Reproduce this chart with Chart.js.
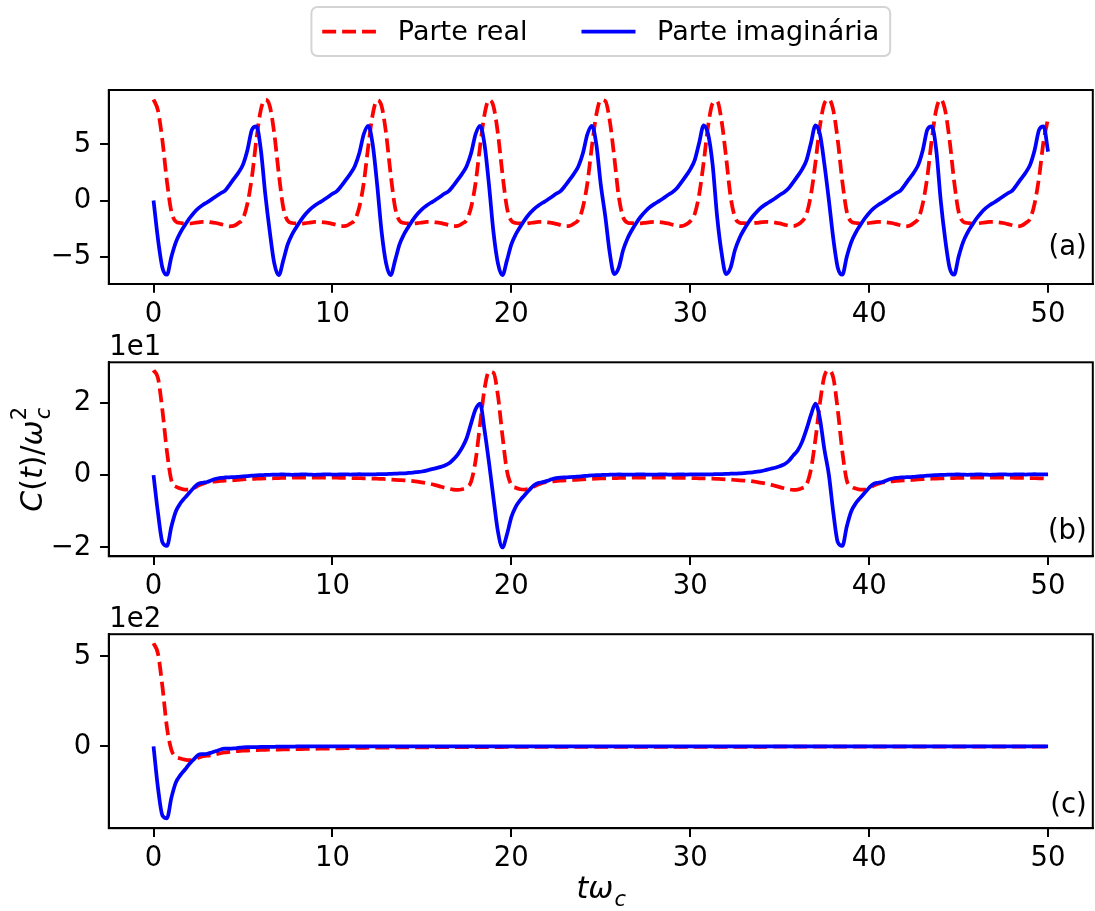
<!DOCTYPE html>
<html>
<head>
<meta charset="utf-8">
<title>C(t)</title>
<script src="https://cdn.jsdelivr.net/npm/chart.js@4.4.1/dist/chart.umd.min.js"></script>
<style>
  html, body { margin: 0; padding: 0; background: #fff; }
  #fig { position: relative; width: 1095px; height: 911px; overflow: hidden; }
  #fig canvas { position: absolute; left: 0; }
</style>
</head>
<body>
<div id="fig">
  <canvas id="panelA" width="1095" height="340" style="top:0px"></canvas>
  <canvas id="panelB" width="1095" height="296" style="top:320px"></canvas>
  <canvas id="panelC" width="1095" height="315" style="top:596px"></canvas>
</div>
<script>
const seriesLabels = ['Parte real', 'Parte imaginária']
const panelTags = ['(a)', '(b)', '(c)']
const xTicks = [0, 10, 20, 30, 40, 50]
const yTicksA = [-5, 0, 5]
const yTicksB = [-20, 0, 20]
const yTicksC = [0, 500]

// samples every 0.25 in t*omega_c, from 0 to 50
const dt = 0.25

const realA = [
  9.0, 8.0, 5.3, 1.7, -1.0, -1.88, -2.0, -2.05, -2.05, -2.0, -1.95, -1.9, -1.9, -1.95, -2.0, -2.1, -2.2, -2.3, -2.25, -2.0, -1.6, -0.25, 2.1, 5.45, 8.1, 8.98,
  8.4, 5.95, 2.4, -0.6, -1.8, -2.0, -2.04, -2.05, -2.01, -1.96, -1.91, -1.9, -1.94, -1.99, -2.08, -2.18, -2.28, -2.26, -2.05, -1.73, -0.6, 1.55, 4.8, 7.65, 8.95,
  8.4, 5.95, 2.4, -0.6, -1.8, -2.0, -2.04, -2.05, -2.01, -1.96, -1.91, -1.9, -1.94, -1.99, -2.08, -2.18, -2.28, -2.26, -2.05, -1.73, -0.6, 1.55, 4.8, 7.65, 8.95,
  8.4, 5.95, 2.4, -0.6, -1.8, -2.0, -2.04, -2.05, -2.01, -1.96, -1.91, -1.9, -1.94, -1.99, -2.08, -2.18, -2.28, -2.26, -2.05, -1.73, -0.6, 1.55, 4.8, 7.65, 8.95,
  8.85, 7.1, 3.9, 0.4, -1.5, -1.97, -2.02, -2.05, -2.03, -1.98, -1.93, -1.9, -1.92, -1.97, -2.04, -2.14, -2.24, -2.28, -2.15, -1.85, -1.2, 0.55, 3.4, 6.65, 8.65,
  8.85, 7.1, 3.9, 0.4, -1.5, -1.97, -2.02, -2.05, -2.03, -1.98, -1.93, -1.9, -1.92, -1.97, -2.04, -2.14, -2.24, -2.28, -2.15, -1.85, -1.2, 0.55, 3.4, 6.65, 8.65,
  9.0, 8.0, 5.3, 1.7, -1.0, -1.88, -2.0, -2.05, -2.05, -2.0, -1.95, -1.9, -1.9, -1.95, -2.0, -2.1, -2.2, -2.3, -2.25, -2.0, -1.6, -0.25, 2.1, 5.45, 8.1,
  9.0, 8.0, 5.3, 1.7, -1.0, -1.88, -2.0, -2.05, -2.05, -2.0, -1.95, -1.9, -1.9, -1.95, -2.0, -2.1, -2.2, -2.3, -2.25, -2.0, -1.6, -0.25, 2.1, 5.3, 7.3
]

const imagA = [
  0.0, -3.45, -6.0, -6.6, -5.0, -3.7, -2.85, -2.2, -1.6, -1.1, -0.7, -0.4, -0.15, 0.1, 0.38, 0.65, 0.88, 1.4, 1.95, 2.5, 3.2, 4.5, 6.3, 6.6, 4.5, 0.5,
  -2.8, -5.6, -6.65, -5.35, -3.9, -3.0, -2.33, -1.72, -1.2, -0.78, -0.46, -0.2, 0.05, 0.32, 0.6, 0.84, 1.3, 1.84, 2.39, 3.06, 4.2, 5.9, 6.65, 5.0, 1.4,
  -2.8, -5.6, -6.65, -5.35, -3.9, -3.0, -2.33, -1.72, -1.2, -0.78, -0.46, -0.2, 0.05, 0.32, 0.6, 0.84, 1.3, 1.84, 2.39, 3.06, 4.2, 5.9, 6.65, 5.0, 1.4,
  -2.8, -5.6, -6.65, -5.35, -3.9, -3.0, -2.33, -1.72, -1.2, -0.78, -0.46, -0.2, 0.05, 0.32, 0.6, 0.84, 1.3, 1.84, 2.39, 3.06, 4.2, 5.9, 6.65, 5.0, 1.4,
  -1.4, -4.65, -6.55, -6.0, -4.4, -3.35, -2.6, -1.95, -1.4, -0.95, -0.58, -0.3, -0.05, 0.21, 0.49, 0.74, 1.09, 1.62, 2.17, 2.78, 3.6, 5.15, 6.7, 5.9, 3.2,
  -1.4, -4.65, -6.55, -6.0, -4.4, -3.35, -2.6, -1.95, -1.4, -0.95, -0.58, -0.3, -0.05, 0.21, 0.49, 0.74, 1.09, 1.62, 2.17, 2.78, 3.6, 5.15, 6.7, 5.9, 3.2,
  0.0, -3.45, -6.0, -6.6, -5.0, -3.7, -2.85, -2.2, -1.6, -1.1, -0.7, -0.4, -0.15, 0.1, 0.38, 0.65, 0.88, 1.4, 1.95, 2.5, 3.2, 4.5, 6.3, 6.6, 4.5,
  0.0, -3.45, -6.0, -6.6, -5.0, -3.7, -2.85, -2.2, -1.6, -1.1, -0.7, -0.4, -0.15, 0.1, 0.38, 0.65, 0.88, 1.4, 1.95, 2.5, 3.2, 4.5, 6.3, 6.6, 4.35
]

const realB = [
  29.0, 26.8, 17.8, 6.5, -1.5, -3.2, -3.7, -4.0, -4.0, -3.6, -2.9, -2.4,
  -2.0, -1.85, -1.7, -1.6, -1.5, -1.45, -1.4, -1.3, -1.2, -1.12, -1.05, -1.0,
  -0.95, -0.92, -0.9, -0.85, -0.8, -0.78, -0.75, -0.72, -0.7, -0.7, -0.7, -0.7,
  -0.7, -0.7, -0.7, -0.7, -0.7, -0.72, -0.75, -0.78, -0.8, -0.82, -0.85, -0.88,
  -0.9, -0.95, -1.0, -1.05, -1.1, -1.2, -1.3, -1.38, -1.45, -1.55, -1.65, -1.8,
  -2.0, -2.2, -2.45, -2.75, -3.1, -3.45, -3.75, -4.0, -4.1, -3.9, -3.4, -1.8,
  4.0, 14.0, 23.8, 28.6,
  28.3, 22.0, 11.0, 1.3, -2.7, -3.5, -3.9, -4.0, -3.75, -3.2, -2.6, -2.15,
  -1.9, -1.75, -1.64, -1.54, -1.47, -1.42, -1.34, -1.24, -1.15, -1.08, -1.02, -0.97,
  -0.93, -0.9, -0.87, -0.82, -0.79, -0.76, -0.73, -0.71, -0.7, -0.7, -0.7, -0.7,
  -0.7, -0.7, -0.7, -0.7, -0.71, -0.74, -0.77, -0.79, -0.81, -0.84, -0.87, -0.89,
  -0.93, -0.98, -1.03, -1.08, -1.16, -1.26, -1.35, -1.42, -1.51, -1.61, -1.74, -1.92,
  -2.12, -2.35, -2.63, -2.96, -3.31, -3.63, -3.9, -4.06, -4.0, -3.6, -2.6, 1.7,
  10.0, 20.0, 27.4,
  29.0, 26.8, 17.8, 6.5, -1.5, -3.2, -3.7, -4.0, -4.0, -3.6, -2.9, -2.4,
  -2.0, -1.85, -1.7, -1.6, -1.5, -1.45, -1.4, -1.3, -1.2, -1.12, -1.05, -1.0,
  -0.95, -0.92, -0.9, -0.85, -0.8, -0.78, -0.75, -0.72, -0.7, -0.7, -0.7, -0.7,
  -0.7, -0.7, -0.7, -0.7, -0.7, -0.72, -0.75, -0.78, -0.8, -0.82, -0.85, -0.88,
  -0.9, -0.95
]

const imagB = [
  0.0, -10.5, -18.6, -19.6, -14.2, -10.0, -7.8, -6.3, -4.9, -3.5, -2.4, -2.1,
  -1.9, -1.4, -1.0, -0.75, -0.65, -0.6, -0.55, -0.45, -0.35, -0.25, -0.15, -0.05,
  0.0, 0.05, 0.1, 0.12, 0.15, 0.2, 0.15, 0.1, 0.15, 0.2, 0.2, 0.15,
  0.1, 0.15, 0.2, 0.2, 0.15, 0.15, 0.2, 0.2, 0.15, 0.2, 0.25, 0.2,
  0.2, 0.22, 0.25, 0.28, 0.3, 0.35, 0.4, 0.45, 0.5, 0.6, 0.7, 0.85,
  1.0, 1.25, 1.6, 1.85, 2.2, 2.6, 3.2, 4.3, 5.7, 7.6, 10.2, 14.3,
  18.2, 19.8, 12.5, 3.5,
  -6.3, -15.6, -20.0, -16.5, -11.6, -8.7, -6.9, -5.5, -4.1, -2.85, -2.2, -1.95,
  -1.6, -1.15, -0.85, -0.69, -0.62, -0.57, -0.5, -0.39, -0.29, -0.19, -0.09, -0.02,
  0.03, 0.08, 0.11, 0.14, 0.18, 0.17, 0.12, 0.13, 0.18, 0.2, 0.17, 0.12,
  0.13, 0.18, 0.2, 0.17, 0.15, 0.18, 0.2, 0.17, 0.18, 0.23, 0.22, 0.2,
  0.21, 0.24, 0.27, 0.29, 0.33, 0.38, 0.43, 0.48, 0.56, 0.66, 0.79, 0.94,
  1.15, 1.45, 1.75, 2.05, 2.45, 2.95, 3.9, 5.4, 6.8, 9.2, 12.7, 16.7,
  19.8, 15.5, 7.0,
  0.0, -10.5, -18.6, -19.6, -14.2, -10.0, -7.8, -6.3, -4.9, -3.5, -2.4, -2.1,
  -1.9, -1.4, -1.0, -0.75, -0.65, -0.6, -0.55, -0.45, -0.35, -0.25, -0.15, -0.05,
  0.0, 0.05, 0.1, 0.12, 0.15, 0.2, 0.15, 0.1, 0.15, 0.2, 0.2, 0.15,
  0.1, 0.15, 0.2, 0.2, 0.15, 0.15, 0.2, 0.2, 0.15, 0.2, 0.25, 0.2,
  0.2, 0.22
]

const realC = [
  574, 515, 330, 105, -20, -58, -67, -74, -77, -76, -64, -54,
  -52, -49, -43, -38, -34, -31, -28, -26, -24, -23, -22, -21,
  -20, -19, -18.5, -18, -17.5, -17, -16.5, -16, -15.5, -15, -14.5, -14,
  -13.5, -13, -12.5, -12, -11.5, -11, -10.5, -10, -9.5, -9, -8.5, -8,
  -7.5, -7.2, -7, -6.7, -6.5, -6.2, -6, -5.8, -5.5, -5.4, -5.2, -5.1,
  -5, -4.9, -4.7, -4.6, -4.5, -4.4, -4.3, -4.2, -4, -3.9, -3.8, -3.8,
  -3.7, -3.6, -3.6, -3.5, -3.5, -3.4, -3.4, -3.3, -3.3, -3.3, -3.2, -3.2,
  -3.2, -3.1, -3.1, -3.1, -3.0, -3.0, -3.0, -2.9, -2.9, -2.9, -2.9, -2.8,
  -2.8, -2.8, -2.8, -2.7, -2.7, -2.7, -2.7, -2.6, -2.6, -2.6, -2.6, -2.5,
  -2.5, -2.5, -2.5, -2.5, -2.4, -2.4, -2.4, -2.4, -2.3, -2.3, -2.3, -2.3,
  -2.3, -2.2, -2.2, -2.2, -2.2, -2.2, -2.1, -2.1, -2.1, -2.1, -2.1, -2.1,
  -2.0, -2.0, -2.0, -2.0, -2.0, -2.0, -1.9, -1.9, -1.9, -1.9, -1.9, -1.9,
  -1.9, -1.8, -1.8, -1.8, -1.8, -1.8, -1.8, -1.8, -1.7, -1.7, -1.7, -1.7,
  -1.7, -1.7, -1.7, -1.7, -1.6, -1.6, -1.6, -1.6, -1.6, -1.6, -1.6, -1.6,
  -1.5, -1.5, -1.5, -1.5, -1.5, -1.5, -1.5, -1.5, -1.5, -1.4, -1.4, -1.4,
  -1.4, -1.4, -1.4, -1.4, -1.4, -1.4, -1.4, -1.3, -1.3, -1.3, -1.3, -1.3,
  -1.3, -1.3, -1.3, -1.3, -1.2, -1.2, -1.2, -1.2, -1.2
]

const imagC = [
  0, -232, -385, -400, -285, -200, -160, -130, -98, -72, -47, -43,
  -41, -34, -26, -17, -13, -12, -11, -8, -5, -4, -4, -3.5,
  -3, -2.5, -2, -2, -1.5, -1.5, -1, -1, -0.5, -0.5, 0, 0,
  0.5, 0.5, 0, 0, 0.5, 0.5, 0.5, 0, 0, 0.5, 0.5, 0.5,
  0.5, 0.5, 0.4, 0.4, 0.5, 0.5, 0.4, 0.4, 0.4, 0.5, 0.5, 0.4,
  0.4, 0.4, 0.4, 0.5, 0.4, 0.4, 0.4, 0.4, 0.3, 0.4, 0.4, 0.4,
  0.3, 0.3, 0.4, 0.4, 0.3, 0.3, 0.3, 0.4, 0.3, 0.3, 0.3, 0.3,
  0.3, 0.3, 0.2, 0.3, 0.3, 0.3, 0.2, 0.3, 0.3, 0.2, 0.3, 0.3,
  0.2, 0.3, 0.2, 0.2, 0.3, 0.2, 0.2, 0.2, 0.3, 0.2, 0.2, 0.2,
  0.2, 0.2, 0.2, 0.2, 0.2, 0.2, 0.2, 0.2, 0.2, 0.2, 0.2, 0.2,
  0.2, 0.2, 0.1, 0.2, 0.2, 0.2, 0.1, 0.2, 0.2, 0.1, 0.2, 0.2,
  0.1, 0.2, 0.1, 0.1, 0.2, 0.1, 0.1, 0.1, 0.2, 0.1, 0.1, 0.1,
  0.1, 0.1, 0.1, 0.2, 0.1, 0.1, 0.1, 0.1, 0.1, 0.1, 0.2, 0.1,
  0.1, 0.1, 0.1, 0.1, 0.1, 0.1, 0.1, 0.1, 0.1, 0.1, 0.1, 0.1,
  0.1, 0.1, 0.1, 0.1, 0.1, 0.1, 0.1, 0.1, 0.1, 0.1, 0.1, 0.1,
  0.1, 0.1, 0.1, 0.1, 0.1, 0.1, 0.0, 0.1, 0.1, 0.1, 0.0, 0.1,
  0.1, 0.0, 0.1, 0.1, 0.0, 0.1, 0.1, 0.0, 0.1
]

const t = realA.map((_, i) => i * dt)

Chart.defaults.font.family = "'DejaVu Sans'"
Chart.defaults.color = '#000'

const FONT = 27.5
const LEGEND_FONT = 27
const LABEL_FONT = 30
const LINE = 3.75
const DASH = [13.9, 6]
const AXIS_W = 108.8

const fmt = v => (v < 0 ? '\u2212' : '') + Math.abs(Math.round(v * 100) / 100)

// little mathtext: italic symbols, upright punctuation, stacked sub/superscripts
function mathRun(ctx, parts, size, x, y, draw) {
  parts.forEach(p => {
    if (p.t) {
      ctx.font = (p.it ? 'italic ' : '') + size + "px 'DejaVu Sans'"
      if (draw) ctx.fillText(p.t, x, y)
      x += ctx.measureText(p.t).width
    } else {
      const s = size * 0.7
      let w = 0
      if (p.sup) {
        ctx.font = s + "px 'DejaVu Sans'"
        if (draw) ctx.fillText(p.sup, x, y - size * 0.55)
        w = Math.max(w, ctx.measureText(p.sup).width)
      }
      if (p.sub) {
        ctx.font = 'italic ' + s + "px 'DejaVu Sans'"
        if (draw) ctx.fillText(p.sub, x + 1, y + size * 0.25)
        w = Math.max(w, ctx.measureText(p.sub).width)
      }
      x += w
    }
  })
  return x
}

function drawMath(ctx, parts, size, cx, y) {
  const w = mathRun(ctx, parts, size, 0, 0, false)
  ctx.textAlign = 'left'
  ctx.textBaseline = 'alphabetic'
  mathRun(ctx, parts, size, cx - w / 2, y, true)
}

const yLabelParts = [
  {t: 'C', it: true}, {t: '('}, {t: 't', it: true}, {t: ')'}, {t: '/'},
  {t: 'ω', it: true}, {sup: '2', sub: 'c'}
]
const xLabelParts = [{t: 't', it: true}, {t: 'ω', it: true}, {sub: 'c'}]

function roundedBox(ctx, x, y, w, h, r) {
  ctx.beginPath()
  ctx.moveTo(x + r, y)
  ctx.lineTo(x + w - r, y)
  ctx.arcTo(x + w, y, x + w, y + r, r)
  ctx.lineTo(x + w, y + h - r)
  ctx.arcTo(x + w, y + h, x + w - r, y + h, r)
  ctx.lineTo(x + r, y + h)
  ctx.arcTo(x, y + h, x, y + h - r, r)
  ctx.lineTo(x, y + r)
  ctx.arcTo(x, y, x + r, y, r)
  ctx.closePath()
}

// one-row legend centred over the axes, spacing in units of the font size
function drawLegend(chart) {
  const ctx = chart.ctx
  const a = chart.chartArea
  const F = LEGEND_FONT
  ctx.font = F + "px 'DejaVu Sans'"
  const sets = chart.data.datasets
  const widths = sets.map(ds => ctx.measureText(ds.label).width)
  const inner = widths.reduce((s, w) => s + w, 0) + sets.length * 2.8 * F + (sets.length - 1) * 2 * F
  const boxW = inner + 0.8 * F
  const box = {x: (a.left + a.right) / 2 - boxW / 2, y: 7, w: boxW, h: 49}
  roundedBox(ctx, box.x, box.y, box.w, box.h, 6)
  ctx.fillStyle = 'rgba(255,255,255,0.8)'
  ctx.fill()
  ctx.strokeStyle = '#d4d4d4'
  ctx.lineWidth = 2
  ctx.stroke()
  const cy = box.y + box.h / 2
  let x = box.x + 0.4 * F
  sets.forEach((ds, i) => {
    ctx.beginPath()
    ctx.setLineDash(ds.borderDash || [])
    ctx.lineCap = 'butt'
    ctx.lineWidth = LINE
    ctx.strokeStyle = ds.borderColor
    ctx.moveTo(x, cy)
    ctx.lineTo(x + 2 * F, cy)
    ctx.stroke()
    ctx.setLineDash([])
    ctx.fillStyle = '#000'
    ctx.font = F + "px 'DejaVu Sans'"
    ctx.textAlign = 'left'
    ctx.textBaseline = 'middle'
    ctx.fillText(ds.label, x + 2.8 * F, cy + 1)
    x += 2.8 * F + widths[i] + 2 * F
  })
}

function decorations(cfg) {
  return {
    id: 'decorations',
    afterDatasetsDraw(chart) {
      const {ctx, chartArea: a} = chart
      ctx.save()
      // full box around the axes
      ctx.strokeStyle = '#000'
      ctx.lineWidth = 2
      ctx.strokeRect(a.left, a.top, a.right - a.left, a.bottom - a.top)

      ctx.fillStyle = '#000'
      ctx.font = FONT + "px 'DejaVu Sans'"
      ctx.textAlign = 'right'
      ctx.textBaseline = 'middle'
      ctx.fillText(cfg.tag, a.right - 6, a.bottom - cfg.tagLift)

      if (cfg.exponent) {
        ctx.textAlign = 'left'
        ctx.textBaseline = 'alphabetic'
        ctx.fillText(cfg.exponent, a.left + 0.5, a.top - 7)
      }
      if (cfg.legend) drawLegend(chart)
      if (cfg.ylabel) {
        ctx.save()
        ctx.translate(42, (a.top + a.bottom) / 2)
        ctx.rotate(-Math.PI / 2)
        ctx.fillStyle = '#000'
        drawMath(ctx, yLabelParts, LABEL_FONT, 0, 0)
        ctx.restore()
      }
      if (cfg.xlabel) {
        ctx.fillStyle = '#000'
        drawMath(ctx, xLabelParts, LABEL_FONT, (a.left + a.right) / 2, a.bottom + 70)
      }
      ctx.restore()
    }
  }
}

function panel(id, real, imag, o) {
  return new Chart(document.getElementById(id), {
    type: 'line',
    data: {
      labels: t,
      datasets: [
        {
          label: seriesLabels[0],
          data: real,
          borderColor: '#ff0000',
          borderDash: DASH,
          borderWidth: LINE,
          order: 2
        },
        {
          label: seriesLabels[1],
          data: imag,
          borderColor: '#0000ff',
          borderWidth: LINE,
          order: 1
        }
      ]
    },
    options: {
      responsive: false,
      animation: false,
      devicePixelRatio: 1,
      events: [],
      layout: {padding: {top: o.top, right: 2.2, left: 0, bottom: 0}},
      elements: {
        point: {radius: 0},
        line: {cubicInterpolationMode: 'monotone', borderCapStyle: 'butt', borderJoinStyle: 'round', fill: false}
      },
      plugins: {legend: {display: false}, tooltip: {enabled: false}},
      scales: {
        x: {
          type: 'linear',
          min: -2.5,
          max: 52.5,
          afterBuildTicks: s => { s.ticks = xTicks.map(v => ({value: v})) },
          afterFit: s => { s.height = o.xh },
          ticks: {font: {size: FONT}, padding: 5.5, maxRotation: 0, autoSkip: false, callback: v => fmt(v)},
          grid: {drawOnChartArea: false, drawTicks: true, tickLength: 8.75, color: '#000', lineWidth: 2},
          border: {display: true, color: '#000', width: 2}
        },
        y: {
          type: 'linear',
          min: o.ymin,
          max: o.ymax,
          afterBuildTicks: s => { s.ticks = o.yTicks.map(v => ({value: v})) },
          afterFit: s => { s.width = AXIS_W },
          ticks: {font: {size: FONT}, padding: 8.75, autoSkip: false, callback: v => fmt(v / o.div)},
          grid: {drawOnChartArea: false, drawTicks: true, tickLength: 8.75, color: '#000', lineWidth: 2},
          border: {display: true, color: '#000', width: 2}
        }
      }
    },
    plugins: [decorations(o)]
  })
}

// canvases overlap a little; they are transparent, so the offset labels fit
panel('panelA', realA, imagA, {
  top: 90, xh: 56, ymin: -7.43, ymax: 9.84, yTicks: yTicksA, div: 1,
  tag: panelTags[0], tagLift: 36, legend: true
})

panel('panelB', realB, imagB, {
  top: 42.3, xh: 59.7, ymin: -22.45, ymax: 31.2, yTicks: yTicksB, div: 10,
  tag: panelTags[1], tagLift: 24, exponent: '1e1', ylabel: true
})

panel('panelC', realC, imagC, {
  top: 38.2, xh: 82.8, ymin: -455, ymax: 624, yTicks: yTicksC, div: 100,
  tag: panelTags[2], tagLift: 22, exponent: '1e2', xlabel: true
})
</script>
</body>
</html>
